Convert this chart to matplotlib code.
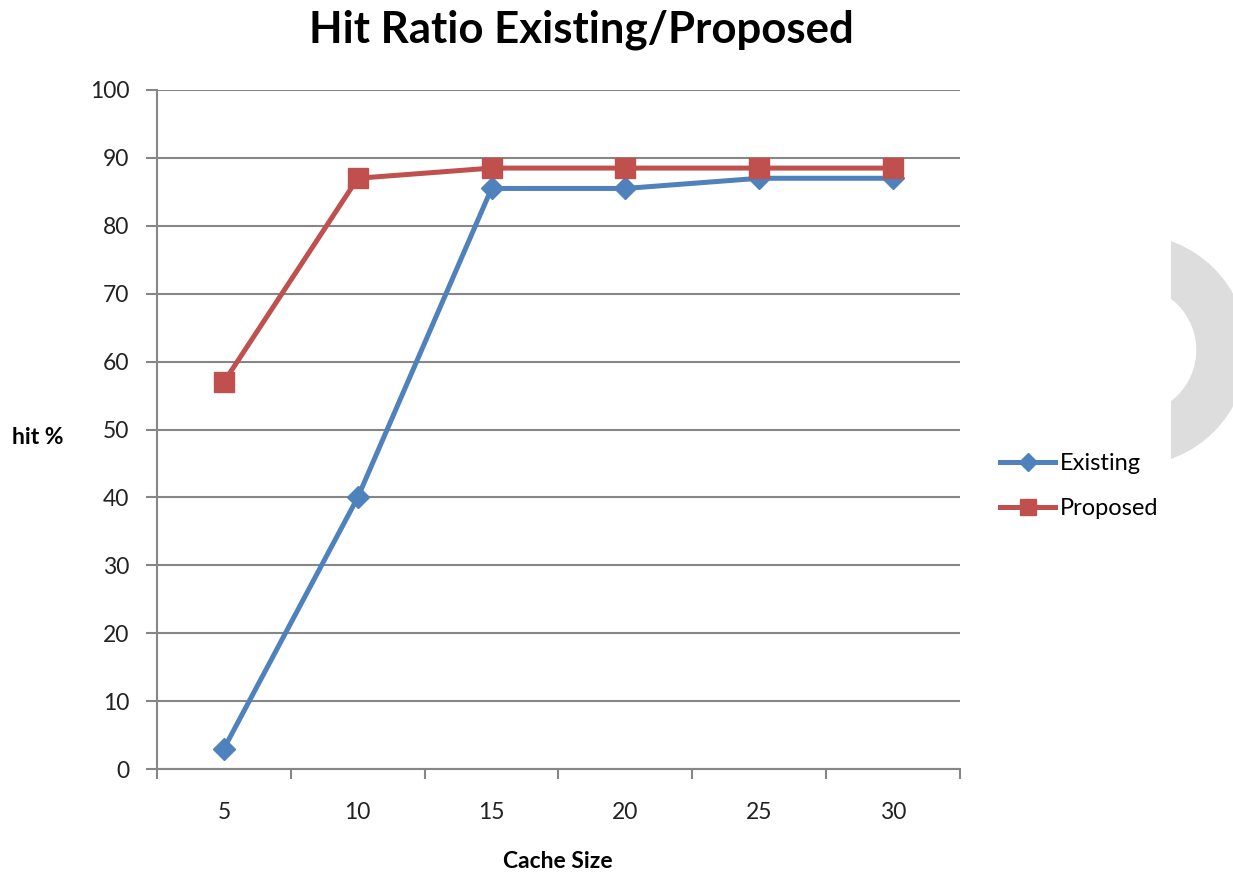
import matplotlib.pyplot as plt
from matplotlib.patches import Wedge, Rectangle
from matplotlib.ticker import FixedLocator

plt.rcParams['font.family'] = ['Lato', 'DejaVu Sans']

cache_sizes = ['5', '10', '15', '20', '25', '30']
existing = [3, 40, 85.5, 85.5, 87, 87]
proposed = [57, 87, 88.5, 88.5, 88.5, 88.5]

grey = '#868686'
W, H = 1233, 875

fig = plt.figure(figsize=(W / 100, H / 100), dpi=100)
ax = fig.add_axes([157 / W, 1 - 769 / H, (960 - 157) / W, (769 - 90) / H])

x = range(len(cache_sizes))
ax.plot(x, existing, color='#4F81BD', lw=3.6, marker='D', ms=11,
        label='Existing', zorder=3)
ax.plot(x, proposed, color='#C0504D', lw=3.6, marker='s', ms=14,
        label='Proposed', zorder=3)

ax.set_xlim(-0.5, len(cache_sizes) - 0.5)
ax.set_ylim(0, 100)
ax.set_yticks(range(0, 101, 10))
ax.set_xticks(list(x))
ax.set_xticklabels(cache_sizes)
ax.xaxis.set_minor_locator(FixedLocator([i - 0.5 for i in range(len(cache_sizes) + 1)]))
ax.tick_params(axis='x', which='major', length=0, pad=24, labelsize=16.5, colors='#222222')
ax.tick_params(axis='x', which='minor', length=7, width=1.5, color=grey)
ax.tick_params(axis='y', length=8, width=1.5, color=grey, labelsize=16.5, pad=12)
for lbl in ax.get_yticklabels():
    lbl.set_color('#222222')

ax.grid(axis='y', color=grey, lw=1.5)
ax.set_axisbelow(True)
for side in ['top', 'right']:
    ax.spines[side].set_visible(False)
for side in ['left', 'bottom']:
    ax.spines[side].set_color(grey)
    ax.spines[side].set_linewidth(1.5)

fig.text(581 / W, 1 - 30 / H, 'Hit Ratio Existing/Proposed', ha='center', va='center',
         fontsize=31.5, fontweight='bold')
fig.text(38 / W, 1 - 437 / H, 'hit %', ha='center', va='center', fontsize=16.5, fontweight='bold')
fig.text(558 / W, 1 - 862 / H, 'Cache Size', ha='center', va='center', fontsize=16.5, fontweight='bold')

fig.legend(loc='center left', bbox_to_anchor=(1000 / W, 1 - 486 / H), frameon=False,
           borderaxespad=0, borderpad=0, fontsize=17, handlelength=2.35,
           handletextpad=0.2, labelspacing=1.0, markerscale=0.8)

# grey ring at the right edge, cut off by a vertical edge
clip = Rectangle((1171, 0), 200, H, transform=None, visible=False)
fig.add_artist(clip)
ring = Wedge((1132, H - 350), 115, -90, 90, width=50, transform=None,
             color='#DDDDDD', zorder=0)
ring.set_clip_path(clip)
fig.add_artist(ring)

fig.savefig('out.png', dpi=100)
